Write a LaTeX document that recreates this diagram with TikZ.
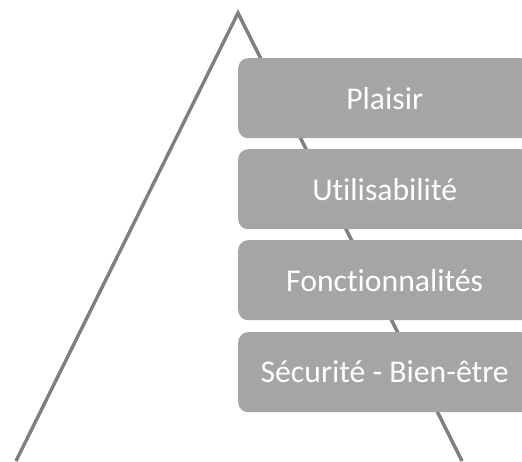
\documentclass[tikz,border=0pt]{standalone}
\usepackage{fontspec}
\setmainfont{Carlito}[Ligatures={NoCommon,TeX}]
\definecolor{boxgray}{HTML}{A5A5A5}
\definecolor{linegray}{HTML}{7F7F7F}
\begin{document}
\begin{tikzpicture}[x=1pt,y=-1pt,
  level/.style={fill=boxgray, draw=none, rounded corners=10pt, minimum width=293pt, minimum height=80pt, anchor=north west, inner sep=0pt, text=white, font=\fontsize{31.7}{36}\selectfont},
  edge/.style={draw=linegray, line width=3.4pt}]
\useasboundingbox (0,0) rectangle (522,461);
\begin{scope}
\clip (0,0) rectangle (522,461);
\coordinate (apex) at (238,13);
\coordinate (bl) at (16,461);
\coordinate (br) at (462,461);
\draw[edge, line join=miter] (bl) -- (apex) -- (br);
\node[level] (p) at (238,58) {Plaisir};
\node[level] (u) at (238,149) {Utilisabilité};
\node[level] (f) at (238,240) {Fonctionnalités};
\node[level] (s) at (238,332) {Sécurité - Bien-être};
\end{scope}
\end{tikzpicture}
\end{document}
